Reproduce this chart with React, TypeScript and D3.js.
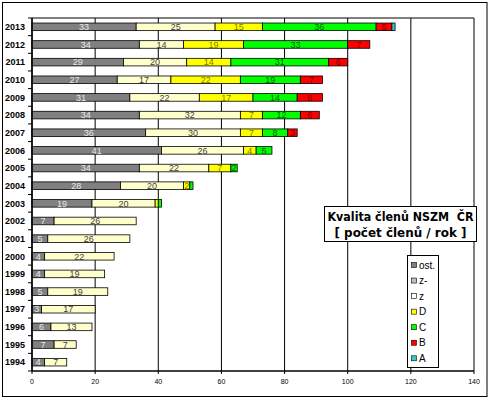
import React from 'react';
import * as d3 from 'd3';

const years = ['1994', '1995', '1996', '1997', '1998', '1999', '2000', '2001', '2002', '2003',
  '2004', '2005', '2006', '2007', '2008', '2009', '2010', '2011', '2012', '2013'];

const seriesNames = ['ost.', 'z-', 'z', 'D', 'C', 'B', 'A'];
const seriesColors = ['#808080', '#C0C0C0', '#FFFFCC', '#FFFF00', '#00FF00', '#FF0000', '#33CCCC'];
const labelColors = ['#E8E8E8', '#333333', '#404040', '#808000', '#006600', '#800000', '#006666'];

const ost = [4, 7, 6, 3, 5, 4, 4, 5, 7, 19, 28, 34, 41, 36, 34, 31, 27, 29, 34, 33];
const zMinus = [0, 0, 0, 0, 0, 0, 0, 0, 0, 0, 0, 0, 0, 0, 0, 0, 0, 0, 0, 0];
const z = [7, 7, 13, 17, 19, 19, 22, 26, 26, 20, 20, 22, 26, 30, 32, 22, 17, 20, 14, 25];
const D = [0, 0, 0, 0, 0, 0, 0, 0, 0, 1, 2, 7, 4, 7, 7, 17, 22, 14, 19, 15];
const C = [0, 0, 0, 0, 0, 0, 0, 0, 0, 1, 1, 2, 5, 8, 12, 14, 19, 31, 33, 36];
const B = [0, 0, 0, 0, 0, 0, 0, 0, 0, 0, 0, 0, 0, 3, 6, 8, 7, 6, 7, 5];
const A = [0, 0, 0, 0, 0, 0, 0, 0, 0, 0, 0, 0, 0, 0, 0, 0, 0, 0, 0, 1];

const xTicks = [0, 20, 40, 60, 80, 100, 120, 140];

export default function App() {
  const W = 491;
  const H = 399;
  const margin = { top: 18, right: 17, bottom: 28, left: 32 };
  const innerW = W - margin.left - margin.right;
  const innerH = H - margin.top - margin.bottom;

  const seriesData = [ost, zMinus, z, D, C, B, A];
  const rows = years.map((y, i) => {
    const r: Record<string, number | string> = { year: y };
    seriesNames.forEach((s, k) => { r[s] = seriesData[k][i]; });
    return r;
  });
  const stacked = d3.stack<any>().keys(seriesNames)(rows);

  const x = d3.scaleLinear().domain([0, 140]).range([0, innerW]);
  const yBand = d3.scaleBand().domain([...years].reverse()).range([0, innerH]).paddingInner(0.57).paddingOuter(0.285);
  const yStep = innerH / years.length;

  const font = 'Arial, "Liberation Sans", sans-serif';
  const titleFont = 'Verdana, "DejaVu Sans", sans-serif';

  return (
    <div style={{ position: 'absolute', left: 0, top: 0 }}>
      <svg width={W} height={H} style={{ display: 'block', background: '#fff' }} fontFamily={font}>
        <rect x={2.5} y={2.5} width={484.5} height={394} fill="#fff" stroke="#000" strokeWidth={1} />
        <g transform={`translate(${margin.left},${margin.top})`}>
          {/* vertical grid */}
          {xTicks.map(t => (
            <line key={t} x1={x(t)} x2={x(t)} y1={0} y2={innerH} stroke="#000" strokeWidth={1} />
          ))}
          <line x1={0} x2={innerW} y1={0} y2={0} stroke="#000" />

          {/* bars */}
          {stacked.map((layer, k) => (
            <g key={layer.key}>
              {layer.map((d, i) => {
                const w = x(d[1]) - x(d[0]);
                if (w <= 0) return null;
                const yy = yBand(years[i]) as number;
                return (
                  <rect key={i} x={x(d[0])} y={yy} width={w} height={yBand.bandwidth()}
                    fill={seriesColors[k]} stroke="#000" strokeWidth={0.8} />
                );
              })}
            </g>
          ))}

          {/* segment labels */}
          {stacked.map((layer, k) => (
            <g key={'l' + layer.key}>
              {layer.map((d, i) => {
                const v = d[1] - d[0];
                if (v < 2) return null;
                const yy = (yBand(years[i]) as number) + yBand.bandwidth() / 2;
                return (
                  <text key={i} x={(x(d[0]) + x(d[1])) / 2} y={yy} dy="0.36em" textAnchor="middle"
                    fontSize={9} fill={labelColors[k]}>{v}</text>
                );
              })}
            </g>
          ))}

          {/* axes */}
          <line x1={0} x2={0} y1={0} y2={innerH} stroke="#000" strokeWidth={1.5} />
          <line x1={0} x2={innerW} y1={innerH} y2={innerH} stroke="#000" strokeWidth={1.5} />
          {d3.range(years.length + 1).map(i => (
            <line key={i} x1={-4} x2={0} y1={i * yStep} y2={i * yStep} stroke="#000" />
          ))}
          {xTicks.map(t => (
            <g key={'t' + t}>
              <line x1={x(t)} x2={x(t)} y1={innerH} y2={innerH + 3} stroke="#000" />
              <text x={x(t)} y={innerH + 13} textAnchor="middle" fontSize={7} fill="#000">{t}</text>
            </g>
          ))}
          {years.map(yv => (
            <text key={yv} x={-7} y={(yBand(yv) as number) + yBand.bandwidth() / 2} dy="0.36em"
              textAnchor="end" fontSize={9} fontWeight="bold" fill="#000">{yv}</text>
          ))}
        </g>

        {/* title box */}
        <rect x={324.5} y={206.5} width={152} height={35} fill="#fff" stroke="#000" />
        <text x={400.5} y={221} textAnchor="middle" fontSize={12} fontWeight="bold" fontFamily={titleFont}
          textLength={146} lengthAdjust="spacingAndGlyphs" style={{ whiteSpace: 'pre' }}>Kvalita členů NSZM  ČR</text>
        <text x={400.5} y={237} textAnchor="middle" fontSize={12} fontWeight="bold" fontFamily={titleFont}
          textLength={132} lengthAdjust="spacingAndGlyphs" style={{ whiteSpace: 'pre' }}>[ počet členů / rok ]</text>

        {/* legend */}
        <rect x={407.5} y={255.5} width={31} height={112} fill="#fff" stroke="#000" />
        {seriesNames.map((s, k) => (
          <g key={s} transform={`translate(411, ${265 + k * 15.55})`}>
            <rect x={0.5} y={-2.5} width={5} height={5} fill={k === 2 ? '#fff' : seriesColors[k]} stroke="#000" strokeWidth={0.6} />
            <text x={8} y={0} dy="0.35em" fontSize={10} fill="#000">{s}</text>
          </g>
        ))}
      </svg>
    </div>
  );
}
